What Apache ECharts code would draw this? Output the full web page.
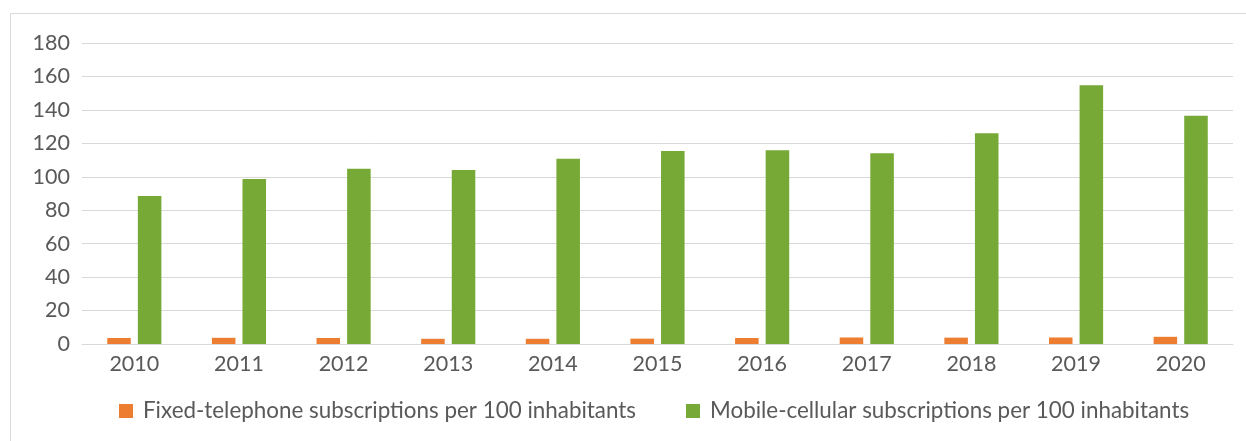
<!DOCTYPE html>
<html>
<head>
<meta charset="utf-8">
<script src="https://cdn.jsdelivr.net/npm/echarts@6/dist/echarts.min.js"></script>
<style>
  html, body { margin: 0; padding: 0; background: #fff; }
  #chart { width: 1246px; height: 441px; }
</style>
</head>
<body>
<div id="chart"></div>
<script>
// 数据
const years = ['2010', '2011', '2012', '2013', '2014', '2015', '2016', '2017', '2018', '2019', '2020']
const fixedValues = [3.6, 3.7, 3.6, 3.1, 3.1, 3.2, 3.6, 3.9, 3.8, 3.9, 4.3]
const mobileValues = [88.5, 98.6, 104.8, 104.0, 110.8, 115.4, 115.8, 114.0, 126.1, 154.8, 136.5]
const fixedName = 'Fixed-telephone subscriptions per 100 inhabitants'
const mobileName = 'Mobile-cellular subscriptions per 100 inhabitants'

const textColor = '#595959'
const fontFamily = 'Lato, "Open Sans", sans-serif'

const chart = echarts.init(document.getElementById('chart'))

chart.setOption({
  animation: false,
  textStyle: { fontFamily: fontFamily },
  // 外框
  graphic: [
    {
      type: 'rect',
      shape: { x: 10.5, y: 13.5, width: 1260, height: 460 },
      style: { fill: 'none', stroke: '#d9d9d9', lineWidth: 1 },
      silent: true
    }
  ],
  grid: {
    left: 82,
    right: 13,
    top: 43,
    bottom: 97,
    containLabel: false
  },
  legend: {
    bottom: 14,
    left: 114,
    itemWidth: 14,
    itemHeight: 14,
    itemGap: 50,
    icon: 'rect',
    textStyle: { color: textColor, fontSize: 22.4, fontFamily: fontFamily, padding: [0, 0, 0, 5] },
    data: [fixedName, mobileName]
  },
  xAxis: {
    type: 'category',
    data: years,
    axisLine: { show: true, lineStyle: { color: '#d9d9d9', width: 1 } },
    axisTick: { show: false },
    axisLabel: { color: textColor, fontSize: 21.5, margin: 9 }
  },
  yAxis: {
    type: 'value',
    min: 0,
    max: 180,
    interval: 20,
    axisLine: { show: false },
    axisTick: { show: false },
    axisLabel: { color: textColor, fontSize: 21.5, margin: 12 },
    splitLine: { lineStyle: { color: '#d9d9d9', width: 1 } }
  },
  series: [
    {
      name: fixedName,
      type: 'bar',
      data: fixedValues,
      barWidth: '22.5%',
      barGap: '30%',
      itemStyle: { color: '#ed7d31' }
    },
    {
      name: mobileName,
      type: 'bar',
      data: mobileValues,
      barWidth: '22.5%',
      barGap: '30%',
      itemStyle: { color: '#76a935' }
    }
  ]
})
</script>
</body>
</html>
